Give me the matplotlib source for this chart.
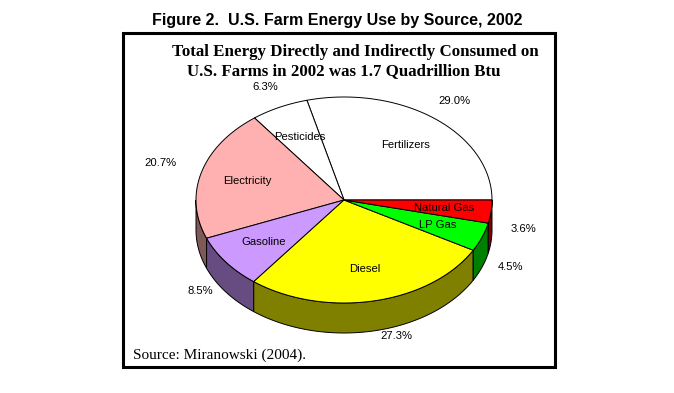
import numpy as np
import matplotlib.pyplot as plt
from matplotlib.patches import Polygon, Rectangle

# data
sources = ["Fertilizers", "Pesticides", "Electricity", "Gasoline", "Diesel", "LP Gas", "Natural Gas"]
shares = [29.0, 6.3, 20.7, 8.5, 27.3, 4.5, 3.6]
pct_labels = ["29.0%", "6.3%", "20.7%", "8.5%", "27.3%", "4.5%", "3.6%"]

top_colors = ["#FFFFFF", "#FFFFFF", "#FFB0B0", "#CC99FF", "#FFFF00", "#00FF00", "#FF0000"]
side_colors = ["#808080", "#808080", "#805858", "#664C80", "#808000", "#008000", "#800000"]

# pie geometry in pixel space
cx, cy = 344, 200
rx, ry = 148, 103
depth = 30
pct_nudge = [(0, 0), (0, 0), (-10, -3), (0, 0), (16, -2), (-2, 7), (0, 0)]

fig = plt.figure(figsize=(6.74, 3.93), dpi=100)
ax = fig.add_axes([0, 0, 1, 1])
ax.set_xlim(0, 674)
ax.set_ylim(393, 0)
ax.axis('off')

fig.text(0.5, 1 - 20 / 393, "Figure 2.  U.S. Farm Energy Use by Source, 2002",
         ha='center', va='center', fontsize=11.5, fontweight='bold', family='Liberation Sans')
ax.add_patch(Rectangle((123, 33), 432, 334, fill=False, lw=2.2, ec='black'))
ax.text(172, 52, "Total Energy Directly and Indirectly Consumed on", ha='left', va='center',
        fontsize=12.2, fontweight='bold', family='Liberation Serif')
ax.text(187, 71, "U.S. Farms in 2002 was 1.7 Quadrillion Btu", ha='left', va='center',
        fontsize=12.2, fontweight='bold', family='Liberation Serif')
ax.text(133, 355, "Source: Miranowski (2004).", ha='left', va='center',
        fontsize=11, family='Liberation Serif')


def edge(t):
    t = np.radians(t)
    return cx + rx * np.cos(t), cy - ry * np.sin(t)


bounds = np.concatenate([[0], np.cumsum(shares) / sum(shares) * 360])

# side walls (only front half visible)
for i in range(len(shares)):
    a0, a1 = max(bounds[i], 180), min(bounds[i + 1], 360)
    if a1 <= a0:
        continue
    t = np.linspace(a0, a1, 60)
    x, y = edge(t)
    pts = np.column_stack([np.r_[x, x[::-1]], np.r_[y, y[::-1] + depth]])
    ax.add_patch(Polygon(pts, closed=True, fc=side_colors[i], ec='black', lw=0.7, zorder=2))

# top faces
for i in range(len(shares)):
    t = np.linspace(bounds[i], bounds[i + 1], 100)
    x, y = edge(t)
    pts = np.column_stack([np.r_[cx, x], np.r_[cy, y]])
    ax.add_patch(Polygon(pts, closed=True, fc=top_colors[i], ec='black', lw=0.7, zorder=3))

# labels
for i in range(len(shares)):
    mid = np.radians((bounds[i] + bounds[i + 1]) / 2)
    ix = cx + 0.68 * rx * np.cos(mid)
    iy = cy - 0.68 * ry * np.sin(mid)
    ax.text(ix, iy, sources[i], ha='center', va='center', fontsize=8.1,
            family='Liberation Sans', zorder=5)
    ox = cx + 1.22 * rx * np.cos(mid) + pct_nudge[i][0]
    oy = cy - 1.22 * ry * np.sin(mid) + pct_nudge[i][1]
    if np.sin(mid) < 0:
        oy += depth / 2
    ax.text(ox, oy, pct_labels[i], ha='center', va='center', fontsize=8.1,
            family='Liberation Sans', zorder=5)

fig.savefig("out.png", dpi=100)
